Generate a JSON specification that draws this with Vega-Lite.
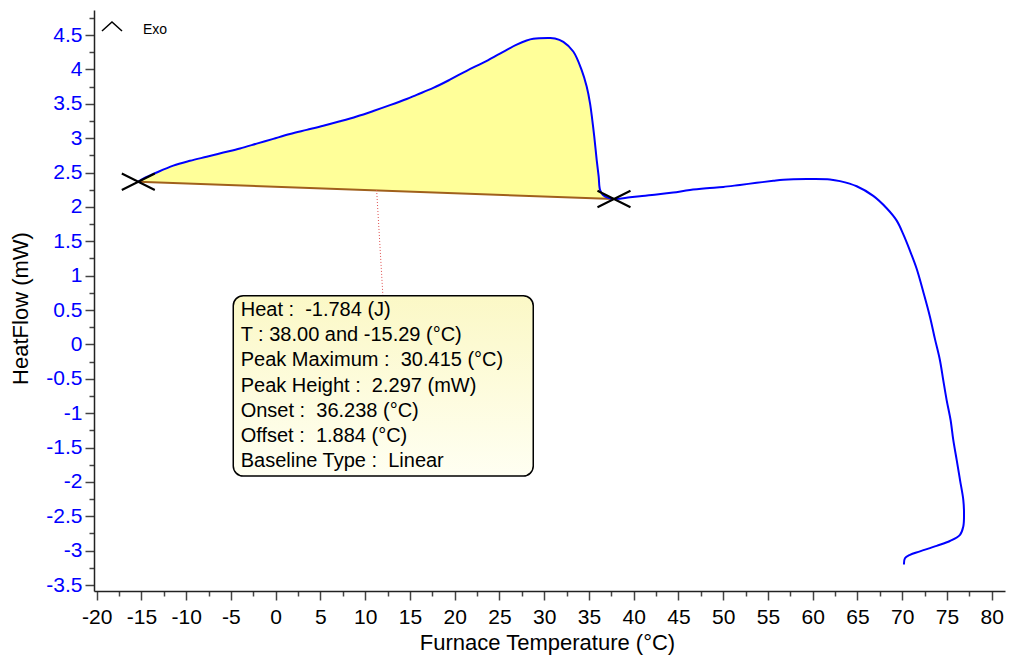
{
  "$schema": "https://vega.github.io/schema/vega-lite/v6.json",
  "autosize": "none",
  "width": 911,
  "height": 581,
  "padding": {"left": 94, "top": 10, "right": 4, "bottom": 66},
  "background": "white",
  "config": {"view": {"stroke": null}, "font": "Liberation Sans"},
  "datasets": {
    "curve": [
      {"i":0,"t":-15.35,"v":2.366,"base":2.366},{"i":1,"t":-14.79,"v":2.41,"base":2.363},{"i":2,"t":-13.3,"v":2.5,"base":2.356},
      {"i":3,"t":-11.44,"v":2.6,"base":2.347},{"i":4,"t":-9.58,"v":2.67,"base":2.338},{"i":5,"t":-7.71,"v":2.73,"base":2.329},
      {"i":6,"t":-5.85,"v":2.79,"base":2.32},{"i":7,"t":-3.99,"v":2.85,"base":2.311},{"i":8,"t":-2.12,"v":2.92,"base":2.302},
      {"i":9,"t":-0.27,"v":2.99,"base":2.294},{"i":10,"t":1.6,"v":3.06,"base":2.285},{"i":11,"t":3.46,"v":3.12,"base":2.276},
      {"i":12,"t":5.32,"v":3.18,"base":2.267},{"i":13,"t":7.18,"v":3.245,"base":2.258},{"i":14,"t":9.05,"v":3.315,"base":2.249},
      {"i":15,"t":10.91,"v":3.395,"base":2.24},{"i":16,"t":12.77,"v":3.48,"base":2.231},{"i":17,"t":14.64,"v":3.57,"base":2.222},
      {"i":18,"t":15.75,"v":3.63,"base":2.217},{"i":19,"t":17.61,"v":3.73,"base":2.208},{"i":20,"t":19.47,"v":3.85,"base":2.2},
      {"i":21,"t":21.34,"v":3.98,"base":2.191},{"i":22,"t":23.2,"v":4.1,"base":2.182},{"i":23,"t":25.06,"v":4.23,"base":2.173},
      {"i":24,"t":26.93,"v":4.36,"base":2.165},{"i":25,"t":28.04,"v":4.42,"base":2.159},{"i":26,"t":28.78,"v":4.445,"base":2.156},
      {"i":27,"t":30.4,"v":4.455,"base":2.148},{"i":28,"t":31.21,"v":4.45,"base":2.144},{"i":29,"t":32.14,"v":4.4,"base":2.14},
      {"i":30,"t":33.25,"v":4.26,"base":2.135},{"i":31,"t":34.19,"v":3.99,"base":2.13},{"i":32,"t":34.75,"v":3.75,"base":2.128},
      {"i":33,"t":35.12,"v":3.51,"base":2.126},{"i":34,"t":35.38,"v":3.26,"base":2.125},{"i":35,"t":35.6,"v":3.02,"base":2.124},
      {"i":36,"t":35.87,"v":2.68,"base":2.122},{"i":37,"t":36.09,"v":2.44,"base":2.121},{"i":38,"t":36.24,"v":2.25,"base":2.12},
      {"i":39,"t":36.6,"v":2.17,"base":2.119},{"i":40,"t":37.8,"v":2.115,"base":2.115},
      {"i":41,"t":39.59,"v":2.14},{"i":42,"t":40.7,"v":2.155},{"i":43,"t":42.57,"v":2.18},{"i":44,"t":44.42,"v":2.21},
      {"i":45,"t":46.29,"v":2.245},{"i":46,"t":48.16,"v":2.27},{"i":47,"t":50.01,"v":2.29},{"i":48,"t":51.87,"v":2.32},
      {"i":49,"t":53.74,"v":2.35},{"i":50,"t":55.6,"v":2.38},{"i":51,"t":56.72,"v":2.395},{"i":52,"t":59.33,"v":2.405},
      {"i":53,"t":61.93,"v":2.4},{"i":54,"t":63.05,"v":2.375},{"i":55,"t":64.92,"v":2.3},{"i":56,"t":66.77,"v":2.16},
      {"i":57,"t":68.27,"v":1.98},{"i":58,"t":69.39,"v":1.8},{"i":59,"t":70.13,"v":1.6},{"i":60,"t":70.88,"v":1.36},
      {"i":61,"t":71.62,"v":1.1},{"i":62,"t":72.37,"v":0.76},{"i":63,"t":73.11,"v":0.4},{"i":64,"t":73.66,"v":0.08},
      {"i":65,"t":74.22,"v":-0.23},{"i":66,"t":74.59,"v":-0.52},{"i":67,"t":74.97,"v":-0.81},{"i":68,"t":75.41,"v":-1.1},
      {"i":69,"t":75.71,"v":-1.39},{"i":70,"t":76.09,"v":-1.68},{"i":71,"t":76.46,"v":-1.97},{"i":72,"t":76.83,"v":-2.26},
      {"i":73,"t":76.91,"v":-2.46},{"i":74,"t":76.83,"v":-2.65},{"i":75,"t":76.46,"v":-2.77},{"i":76,"t":75.34,"v":-2.86},
      {"i":77,"t":73.85,"v":-2.93},{"i":78,"t":71.99,"v":-3.01},{"i":79,"t":70.87,"v":-3.06},{"i":80,"t":70.31,"v":-3.11},
      {"i":81,"t":70.2,"v":-3.2}
    ],
    "baseline": [{"t":-15.35,"v":2.366},{"t":37.8,"v":2.115}],
    "markers": [{"t":-15.35,"v":2.366},{"t":37.8,"v":2.115}],
    "pointer": [{"t":11.28,"v":2.245},{"t":11.98,"v":0.708}],
    "box": [{"t":-4.74,"t2":28.78,"v":0.708,"v2":-1.915}],
    "info": [
      {"t":-3.91,"v":0.5,"label":"Heat :\u00a0 -1.784 (J)"},
      {"t":-3.91,"v":0.133,"label":"T : 38.00 and -15.29 (°C)"},
      {"t":-3.91,"v":-0.233,"label":"Peak Maximum :\u00a0 30.415 (°C)"},
      {"t":-3.91,"v":-0.6,"label":"Peak Height :\u00a0 2.297 (mW)"},
      {"t":-3.91,"v":-0.967,"label":"Onset :\u00a0 36.238 (°C)"},
      {"t":-3.91,"v":-1.333,"label":"Offset :\u00a0 1.884 (°C)"},
      {"t":-3.91,"v":-1.699,"label":"Baseline Type :\u00a0 Linear"}
    ],
    "caret": [{"t":-19.41,"v":4.558},{"t":-18.29,"v":4.689},{"t":-17.17,"v":4.558}],
    "exo": [{"t":-14.83,"v":4.573,"label":"Exo"}]
  },
  "encoding": {
    "x": {
      "field": "t", "type": "quantitative",
      "scale": {"domain": [-20.3, 81.49], "nice": false, "zero": false},
      "axis": {
        "values": [-20,-17.5,-15,-12.5,-10,-7.5,-5,-2.5,0,2.5,5,7.5,10,12.5,15,17.5,20,22.5,25,27.5,30,32.5,35,37.5,40,42.5,45,47.5,50,52.5,55,57.5,60,62.5,65,67.5,70,72.5,75,77.5,80],
        "labelExpr": "datum.value % 5 == 0 ? '' + datum.value : ''",
        "tickSize": {"condition": {"test": "datum.value % 5 != 0", "value": 5}, "value": 9},
        "tickColor": "#444", "tickWidth": 1.5,
        "domainColor": "#222", "domainWidth": 1.5,
        "labelFont": "Liberation Sans", "labelFontSize": 21, "labelColor": "#000",
        "labelPadding": 6, "labelOverlap": false, "labelFlush": false,
        "grid": false,
        "title": "Furnace Temperature (°C)",
        "titleFont": "Liberation Sans", "titleFontSize": 22, "titleFontWeight": "normal", "titleColor": "#000",
        "titleX": 453, "titleY": 51, "titleBaseline": "middle", "titleAlign": "center"
      }
    },
    "y": {
      "field": "v", "type": "quantitative",
      "scale": {"domain": [-3.587, 4.864], "nice": false, "zero": false},
      "axis": {
        "values": [-3.5,-3.25,-3,-2.75,-2.5,-2.25,-2,-1.75,-1.5,-1.25,-1,-0.75,-0.5,-0.25,0,0.25,0.5,0.75,1,1.25,1.5,1.75,2,2.25,2.5,2.75,3,3.25,3.5,3.75,4,4.25,4.5,4.75],
        "labelExpr": "datum.value % 0.5 == 0 ? '' + datum.value : ''",
        "tickSize": {"condition": {"test": "datum.value % 0.5 != 0", "value": 5}, "value": 9},
        "tickColor": "#444", "tickWidth": 1.5,
        "domainColor": "#222", "domainWidth": 1.5,
        "labelFont": "Liberation Sans", "labelFontSize": 21, "labelColor": "#0000ff",
        "labelPadding": 3, "labelOverlap": false, "labelFlush": false,
        "grid": false,
        "title": "HeatFlow (mW)",
        "titleFont": "Liberation Sans", "titleFontSize": 22, "titleFontWeight": "normal", "titleColor": "#000",
        "titleX": -74, "titleY": 298, "titleAngle": 270, "titleBaseline": "middle", "titleAlign": "center"
      }
    }
  },
  "layer": [
    {
      "data": {"name": "curve"},
      "transform": [{"filter": "isValid(datum.base)"}],
      "mark": {"type": "area", "color": "#ffff99", "opacity": 1, "interpolate": "catmull-rom"},
      "encoding": {"y2": {"field": "base"}}
    },
    {
      "data": {"name": "baseline"},
      "mark": {"type": "line", "color": "#a0601c", "strokeWidth": 2},
      "encoding": {}
    },
    {
      "data": {"name": "curve"},
      "mark": {"type": "line", "color": "#0000ff", "strokeWidth": 2, "interpolate": "catmull-rom"},
      "encoding": {"order": {"field": "i", "type": "quantitative"}}
    },
    {
      "data": {"name": "markers"},
      "mark": {"type": "point", "shape": "M-1,-0.5L1,0.5M-1,0.5L1,-0.5", "size": 1089, "filled": false, "stroke": "#000", "strokeWidth": 2, "opacity": 1},
      "encoding": {}
    },
    {
      "data": {"name": "pointer"},
      "mark": {"type": "line", "color": "#e05050", "strokeWidth": 1, "strokeDash": [1, 2]},
      "encoding": {}
    },
    {
      "data": {"name": "box"},
      "mark": {"type": "rect", "cornerRadius": 10, "stroke": "#000", "strokeWidth": 1.5,
        "fill": {"gradient": "linear", "x1": 0, "y1": 0, "x2": 0, "y2": 1, "stops": [{"offset": 0, "color": "#fbf8c6"}, {"offset": 1, "color": "#fffff2"}]}},
      "encoding": {"x2": {"field": "t2"}, "y2": {"field": "v2"}}
    },
    {
      "data": {"name": "info"},
      "mark": {"type": "text", "align": "left", "baseline": "middle", "font": "Liberation Sans", "fontSize": 20, "color": "#000"},
      "encoding": {"text": {"field": "label"}}
    },
    {
      "data": {"name": "caret"},
      "mark": {"type": "line", "color": "#000", "strokeWidth": 1.5},
      "encoding": {}
    },
    {
      "data": {"name": "exo"},
      "mark": {"type": "text", "align": "left", "baseline": "middle", "font": "Liberation Sans", "fontSize": 14, "color": "#000"},
      "encoding": {"text": {"field": "label"}}
    }
  ]
}
